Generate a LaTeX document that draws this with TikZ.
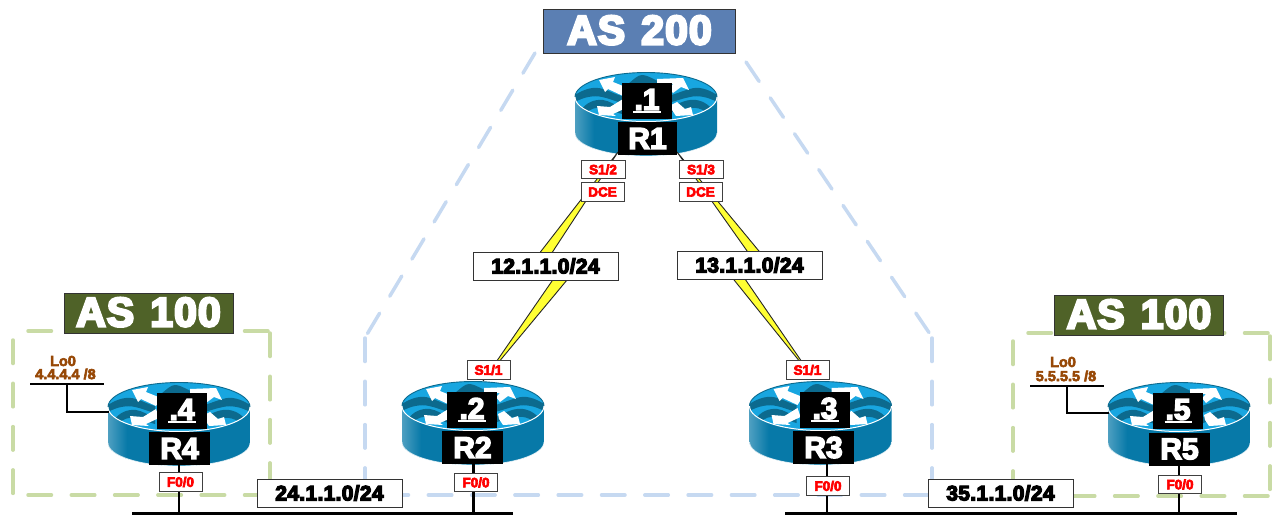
\documentclass[tikz,border=0pt]{standalone}
\usepackage{fontspec}
\setmainfont{Liberation Sans}
\newfontfamily\heavyfont[FakeBold=5]{Liberation Sans Bold}
\newfontfamily\subnetfont[FakeBold=6,LetterSpace=1.5]{Liberation Sans Bold}
\newfontfamily\asfont[FakeBold=6,LetterSpace=2.5,WordSpace=1.3]{Liberation Sans Bold}
\newfontfamily\midfont[FakeBold=4]{Liberation Sans Bold}
\newcommand{\ipnum}[1]{\raisebox{1.5pt}{\vtop{\hbox{\kern1pt #1\kern1pt}\kern1pt\hrule height 2pt}}}
\definecolor{asblue}{HTML}{5B7FB3}
\definecolor{asgreen}{HTML}{4F6228}
\definecolor{dashblue}{HTML}{C6D9F1}
\definecolor{dashgreen}{HTML}{C9DBA5}
\definecolor{brownlo}{HTML}{974806}
\definecolor{rbody}{HTML}{0779A8}
\definecolor{rtop}{HTML}{18A6E0}
\definecolor{rdark}{HTML}{0C6A8E}
\definecolor{boltyellow}{HTML}{FFFF33}
\tikzset{
  x=1pt,y=-1pt,
  asbox/.style={draw=black!80,line width=0.9pt,text=white,inner sep=0pt,font=\asfont\fontsize{41}{41}\selectfont,anchor=center},
  areablue/.style={draw=dashblue,line width=3.5pt,line cap=round,dash pattern=on 23.5pt off 19.8pt},
  areagreen/.style={draw=dashgreen,line width=3.5pt,line cap=round,dash pattern=on 23.5pt off 19.8pt},
  tag/.style={draw=black!75,fill=white,line width=0.8pt,text=red,inner sep=0pt,minimum width=43pt,minimum height=18.5pt,font=\heavyfont\fontsize{13.5}{13.5}\selectfont},
  subnet/.style={draw=black!80,fill=white,line width=0.9pt,text=black,inner sep=0pt,minimum width=145pt,minimum height=28pt,font=\subnetfont\fontsize{21}{21}\selectfont},
  ipbox/.style={fill=black,text=white,inner sep=0pt,minimum width=50pt,minimum height=36pt,font=\heavyfont\fontsize{30}{30}\selectfont},
  namebox/.style={fill=black,text=white,inner sep=0pt,minimum width=61pt,minimum height=33pt,font=\heavyfont\fontsize{30}{30}\selectfont},
  lotext/.style={text=brownlo,inner sep=0pt,font=\midfont\fontsize{14.5}{14.5}\selectfont},
  busline/.style={draw=black,line width=3.4pt},
  drop/.style={draw=black,line width=2.8pt},
  wire/.style={draw=black,line width=1.3pt},
  bolt/.style={draw=black!85,line width=0.9pt,fill=boltyellow,line join=miter},
  router/.pic={
    \begin{scope}
      \clip (-71,0) -- (-71,36) arc[start angle=180,end angle=0,x radius=71,y radius=23] -- (71,0) -- cycle;
      \fill[rbody] (-72,-1) rectangle (72,60);
      \shade[left color=rbody!70!white,right color=rbody] (-72,-1) rectangle (-52,60);
    \end{scope}
    \draw[white,opacity=0.75,line width=0.8pt] (-71,36) arc[start angle=180,end angle=0,x radius=71,y radius=23];
    \begin{scope}
      \clip (0,0) ellipse[x radius=71,y radius=24.5];
      \fill[rtop] (0,0) ellipse[x radius=71,y radius=24.5];
      \fill[rdark] (-18,-13) .. controls (-12,-18) and (-8,-22) .. (-4,-22) .. controls (2,-22) and (10,-16) .. (19,-13) -- (19,-6) -- (-18,-6) -- cycle;
      \fill[rdark] (-71,-2) .. controls (-62,-8) and (-52,-11) .. (-43,-8) .. controls (-36,-6) and (-32,-3) .. (-24,-1) -- (-24,6) .. controls (-32,4) and (-38,1) .. (-44,0) .. controls (-52,-2) and (-62,0) .. (-71,5) -- cycle;
      \fill[rdark] (-65,13) .. controls (-60,6) and (-52,2) .. (-43,3) .. controls (-36,4) and (-32,8) .. (-24,10) -- (-24,17) .. controls (-32,15) and (-38,11) .. (-44,11) .. controls (-50,10) and (-56,12) .. (-60,16) -- cycle;
      \fill[rdark] (71,-2) .. controls (62,-8) and (52,-11) .. (44,-8) .. controls (36,-6) and (30,-3) .. (22,-1) -- (22,6) .. controls (30,4) and (38,1) .. (44,0) .. controls (52,-2) and (62,0) .. (71,5) -- cycle;
      \fill[rdark] (66,12) .. controls (60,5) and (52,2) .. (44,3) .. controls (36,4) and (30,8) .. (24,10) -- (24,16) .. controls (30,14) and (38,11) .. (44,11) .. controls (50,10) and (56,12) .. (60,15) -- cycle;
      \fill[white] (-47,-17) -- (-31,-20) -- (-33,-15) -- (-18,-9) -- (-23,-1) -- (-38,-8) -- (-41,-5) -- cycle;
      \fill[white] (11,-18) -- (37,-19) -- (43,-7) -- (35,-10) -- (27,-4) -- (23,-9) -- (27,-13) -- (11,-13) -- cycle;
      \fill[white] (-49,9) -- (-36,10) -- (-23,2) -- (-20,11) -- (-33,17) -- (-30,19) -- (-47,18) -- cycle;
      \fill[white] (25,8) -- (31,5) -- (39,12) -- (45,10) -- (47,18) -- (30,19) -- (26,13) -- cycle;
    \end{scope}
    \draw[rdark,line width=0.9pt] (-71,0) arc[start angle=180,end angle=360,x radius=71,y radius=24.5];
    \draw[white,line width=1pt] (-71,0) arc[start angle=180,end angle=0,x radius=71,y radius=24.5];
  }
}
\begin{document}
\begin{tikzpicture}
\useasboundingbox (0,0) rectangle (1272,516);

% AS 200 area
\draw[areablue] (535,53) -- (366,336);
\draw[areablue] (746,62) -- (932,337);
\draw[areablue] (365,338) -- (365,495);
\draw[areablue] (932,338) -- (932,495);
\draw[areablue] (385,495) -- (932,495);

% left AS 100 area
\draw[areagreen] (28,331) -- (270,331);
\draw[areagreen] (270,333) -- (270,495);
\draw[areagreen] (13,340) -- (13,495);
\draw[areagreen] (28,495) -- (270,495);

% right AS 100 area
\draw[areagreen] (1028,333) -- (1270,333);
\draw[areagreen] (1270,336) -- (1270,496);
\draw[areagreen] (1013,341) -- (1013,496);
\draw[areagreen] (1028,496) -- (1270,496);

% buses
\coordinate (busLa) at (132,513.5);
\coordinate (busLb) at (513,513.5);
\coordinate (busRa) at (785,513.5);
\coordinate (busRb) at (1237,513.5);
\draw[busline] (busLa) -- (busLb);
\draw[busline] (busRa) -- (busRb);

% routers
\pic at (646,97) {router};
\pic at (473,406) {router};
\pic at (820.5,406) {router};
\pic at (179,407) {router};
\pic at (1179,407) {router};

% serial links
\coordinate (boltA) at (618,152);
\coordinate (boltB) at (483,381);
\coordinate (boltC) at (677,152);
\coordinate (boltD) at (813,378);
\draw[bolt] (boltA) -- (528,268) -- (561,268) -- (boltB) -- (577,268) -- (542,268) -- cycle;
\draw[bolt] (boltC) -- (757,265) -- (722,265) -- (boltD) -- (735.4,265) -- (770.5,265) -- cycle;

\node[ipbox] (ip1) at (647,101) {\ipnum{.1}};
\node[namebox,minimum width=59pt] (R1) at (647.5,138.5) {R1};
\node[ipbox] (ip2) at (472,410) {\ipnum{.2}};
\node[namebox] (R2) at (472.5,447.5) {R2};
\node[ipbox] (ip3) at (825,410) {\ipnum{.3}};
\node[namebox] (R3) at (823.5,447.5) {R3};
\node[ipbox] (ip4) at (182,411) {\ipnum{.4}};
\node[namebox] (R4) at (179.5,448.5) {R4};
\node[ipbox] (ip5) at (1178,411) {\ipnum{.5}};
\node[namebox] (R5) at (1179.5,449) {R5};

% tags
\node[tag,minimum width=44pt] (s12) at (603,169.5) {S1/2};
\node[tag] (dce2) at (602.5,192) {DCE};
\node[tag,minimum width=44pt] (s13) at (701,169.5) {S1/3};
\node[tag] (dce3) at (700.5,192) {DCE};
\node[tag] (s21) at (488.5,370) {S1/1};
\node[tag] (s31) at (807.5,370) {S1/1};

\node[subnet] (n12) at (545.5,266) {12.1.1.0/24};
\node[subnet] (n13) at (749.5,265) {13.1.1.0/24};

% drops to the buses
\coordinate (drop4) at (179,513.5);
\coordinate (drop2) at (473.5,513.5);
\coordinate (drop3) at (827,513.5);
\coordinate (drop5) at (1179,513.5);
\draw[drop] (R4.south -| drop4) -- (drop4);
\draw[drop] (R2.south -| drop2) -- (drop2);
\draw[drop] (R3.south -| drop3) -- (drop3);
\draw[drop] (R5.south -| drop5) -- (drop5);
\node[tag] (f4) at (180.5,482) {F0/0};
\node[tag] (f2) at (476,482.5) {F0/0};
\node[tag] (f3) at (828,486) {F0/0};
\node[tag] (f5) at (1180,484.5) {F0/0};

\node[subnet] (n24) at (329.5,493) {24.1.1.0/24};
\node[subnet] (n35) at (1000.5,493) {35.1.1.0/24};

% AS labels
\node[asbox,fill=asblue,minimum width=192pt,minimum height=44pt] (as200) at (639.5,31) {\raisebox{2pt}{AS 200}};
\node[asbox,fill=asgreen,minimum width=169pt,minimum height=40pt] (as100a) at (148.5,313) {\raisebox{2pt}{AS 100}};
\node[asbox,fill=asgreen,minimum width=169pt,minimum height=40pt] (as100b) at (1139,315) {\raisebox{2pt}{AS 100}};

% loopbacks
\node[lotext] (lo4a) at (63,361) {Lo0};
\node[lotext] (lo4b) at (65.5,374) {4.4.4.4 /8};
\coordinate (lo4l) at (30,384);
\coordinate (lo4r) at (104,384);
\coordinate (lo4m) at (67,384);
\coordinate (r4w) at (108.5,412);
\draw[wire] (lo4l) -- (lo4r);
\draw[wire] (lo4m) |- (r4w);

\node[lotext] (lo5a) at (1063,362) {Lo0};
\node[lotext] (lo5b) at (1066,376) {5.5.5.5 /8};
\coordinate (lo5l) at (1030,386);
\coordinate (lo5r) at (1104,386);
\coordinate (lo5m) at (1067,386);
\coordinate (r5w) at (1108.5,413);
\draw[wire] (lo5l) -- (lo5r);
\draw[wire] (lo5m) |- (r5w);
\end{tikzpicture}
\end{document}
